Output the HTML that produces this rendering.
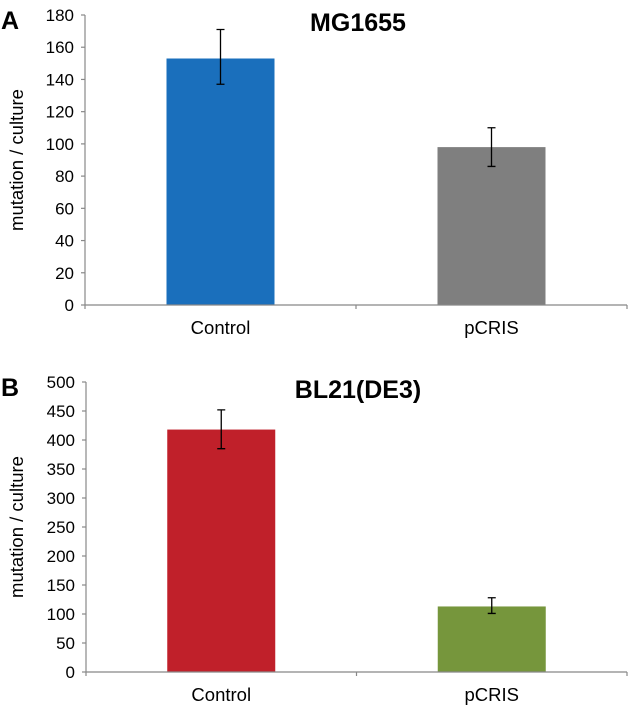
<!DOCTYPE html>
<html><head><meta charset="utf-8"><style>
html,body{margin:0;padding:0;background:#fff;}
svg{display:block;font-family:"Liberation Sans",Arial,sans-serif;}
</style></head><body>
<svg id="fig" width="633" height="712" viewBox="0 0 633 712"></svg>
<script>
const categories = ["Control", "pCRIS"];
const valuesA = [153, 98];
const errLowA = [137, 86];
const errHighA = [171, 110];
const ticksA = [0, 20, 40, 60, 80, 100, 120, 140, 160, 180];
const valuesB = [418, 113];
const errLowB = [385, 101];
const errHighB = [452, 128];
const ticksB = [0, 50, 100, 150, 200, 250, 300, 350, 400, 450, 500];
const colorsA = ["#1a6fbc", "#7f7f7f"];
const colorsB = ["#c0202a", "#76963c"];

const NS = "http://www.w3.org/2000/svg";
const svg = document.getElementById("fig");
function mk(tag, attrs, parent) {
  const e = document.createElementNS(NS, tag);
  for (const k in attrs) e.setAttribute(k, attrs[k]);
  (parent || svg).appendChild(e);
  return e;
}
function panel(cfg) {
  const g = mk("g", {});
  
  
  const x0 = cfg.x0, x1 = 627, yb = cfg.y0, yt = cfg.y1;
  const maxV = cfg.ticks[cfg.ticks.length - 1];
  const y = v => yb - (v / maxV) * (yb - yt);
  const band = (x1 - x0) / cfg.cats.length;
  const bw = 108;
  const xc = i => x0 + band * (i + 0.5);
  const L = mk("text", {x: 1, y: yt + 14, "font-size": 25, "font-weight": "bold", fill: "#000"}, g);
  L.textContent = cfg.letter;
  
  
  const T = mk("text", {x: 358, y: yt + 16, "font-size": 25, "font-weight": "bold", "text-anchor": "middle", fill: "#000"}, g);
  T.textContent = cfg.title;
  
  
  const ym = (yb + yt) / 2;
  const YT = mk("text", {x: 23, y: ym, "font-size": 18.5, "text-anchor": "middle", fill: "#000", transform: `rotate(-90 23 ${ym})`}, g);
  YT.textContent = "mutation / culture";
  
  
  cfg.vals.forEach((v, i) => {
    const r = mk("rect", {x: xc(i) - bw / 2, y: y(v), width: bw, height: yb - y(v), fill: cfg.colors[i]}, g);
    
    
  });
  const ya = mk("line", {x1: x0, y1: yt, x2: x0, y2: yb, stroke: "#888", "stroke-width": 1.2}, g);
  
  
  const xa = mk("line", {x1: x0, y1: yb, x2: x1, y2: yb, stroke: "#888", "stroke-width": 1.2}, g);
  
  
  for (let i = 0; i <= cfg.cats.length; i++) {
    const xt = x0 + band * i;
    const tk = mk("line", {x1: xt, y1: yb, x2: xt, y2: yb + 4, stroke: "#888", "stroke-width": 1.2}, g);
    
    
  }
  cfg.ticks.forEach(t => {
    const tk = mk("line", {x1: x0 - 4, y1: y(t), x2: x0, y2: y(t), stroke: "#888", "stroke-width": 1.2}, g);
    
    
    const lb = mk("text", {x: x0 - 11, y: y(t) + 6, "font-size": 17, "text-anchor": "end", fill: "#000"}, g);
    lb.textContent = t;
    
    
  });
  cfg.vals.forEach((v, i) => {
    const cx = xc(i);
    const e = mk("path", {d: `M${cx},${y(cfg.hi[i])}V${y(cfg.lo[i])}M${cx-4},${y(cfg.hi[i])}H${cx+4}M${cx-4},${y(cfg.lo[i])}H${cx+4}`, stroke: "#000", "stroke-width": 1.3, fill: "none"}, g);
    
    
    const lb = mk("text", {x: cx, y: yb + 29, "font-size": 18.5, "text-anchor": "middle", fill: "#000"}, g);
    lb.textContent = cfg.cats[i];
    
    
  });
}
panel({name: "panel-a", letter: "A", title: "MG1655", x0: 85, y0: 305, y1: 15, ticks: ticksA, cats: categories, vals: valuesA, lo: errLowA, hi: errHighA, colors: colorsA});
panel({name: "panel-b", letter: "B", title: "BL21(DE3)", x0: 86, y0: 672, y1: 382, ticks: ticksB, cats: categories, vals: valuesB, lo: errLowB, hi: errHighB, colors: colorsB});
</script>
</body></html>
